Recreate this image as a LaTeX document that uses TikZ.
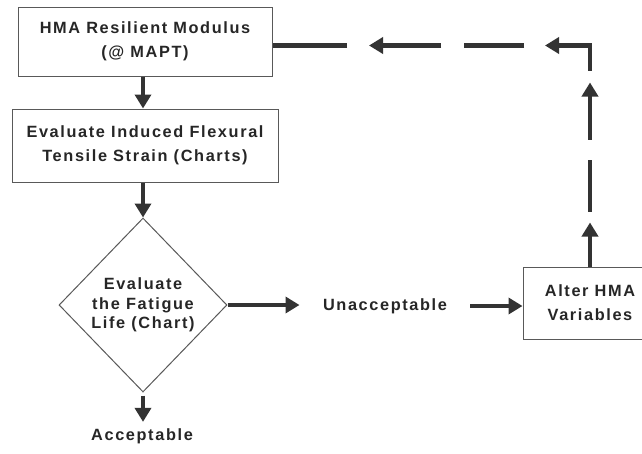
\documentclass[tikz,border=0pt]{standalone}
\usepackage{fontspec}
\setmainfont{Liberation Sans}[LetterSpace=10]
\usetikzlibrary{arrows.meta,shapes.geometric,calc}
\begin{document}
\begin{tikzpicture}[x=1pt,y=-1pt,
  lbl/.style={font=\bfseries\fontsize{16.3}{24}\selectfont, text=black!85, align=center},
  stepbox/.style={lbl, draw=black!65, line width=1pt, inner sep=0pt},
  decision/.style={lbl, font=\bfseries\fontsize{16.3}{19.5}\selectfont, shape=diamond,
    draw=black!65, line width=1pt, inner sep=0pt},
  flow/.style={draw=black!80, line width=4.5pt, line join=miter,
    -{Triangle[length=14pt,width=16pt]}},
  dashseg/.style={draw=black!80, line width=4.5pt}]
\useasboundingbox[fill=white] (0,0) rectangle (642,453);

% process steps
\node[stepbox, minimum width=254pt, minimum height=69pt] (modulus) at (145,41.5)
  {HMA Resilient Modulus\\(@ MAPT)};
\node[stepbox, minimum width=266pt, minimum height=73pt] (strain) at (145,145.5)
  {Evaluate Induced Flexural\\Tensile Strain (Charts)};
\node[decision, minimum width=168pt, minimum height=174pt] (fatigue) at (143,305)
  {Evaluate\\the Fatigue\\Life (Chart)};
\node[lbl] (unacc) at (385,306) {Unacceptable};
\node[lbl] (acc) at (142,436) {Acceptable};
\node[stepbox, minimum width=134pt, minimum height=72pt] (alter) at (590,303)
  {Alter HMA\\Variables};

% main flow
\draw[flow] (modulus.south -| fatigue.north) -- (strain.north -| fatigue.north);
\draw[flow] (strain.south -| fatigue.north) -- (fatigue.north);
\draw[flow] (fatigue.east) -- ($(fatigue.east -| unacc.west)+(-20,0)$);
\draw[flow] ($(unacc.east)+(20,0)$) -- (unacc.east -| alter.west);
\draw[flow, shorten <=3pt] (fatigue.south) -- ($(fatigue.south |- acc.north)+(0,-3)$);

% dashed return path from the alteration step back to the modulus
\coordinate (turn) at ($(alter.north |- modulus.east)+(0,4)$);
\draw[flow] (alter.north) -- ++(0,-44);
\draw[dashseg] ($(alter.north)+(0,-55)$) -- ++(0,-52);
\draw[flow] ($(alter.north)+(0,-127)$) -- ++(0,-57);
\draw[flow] ($(turn)+(0,25)$) -- (turn) -- ++(-45,0);
\draw[dashseg] ($(turn)+(-66,0)$) -- ++(-60,0);
\draw[flow] ($(turn)+(-149,0)$) -- ++(-72,0);
\draw[dashseg] ($(turn)+(-243,0)$) -- (turn -| modulus.east);
\end{tikzpicture}
\end{document}
